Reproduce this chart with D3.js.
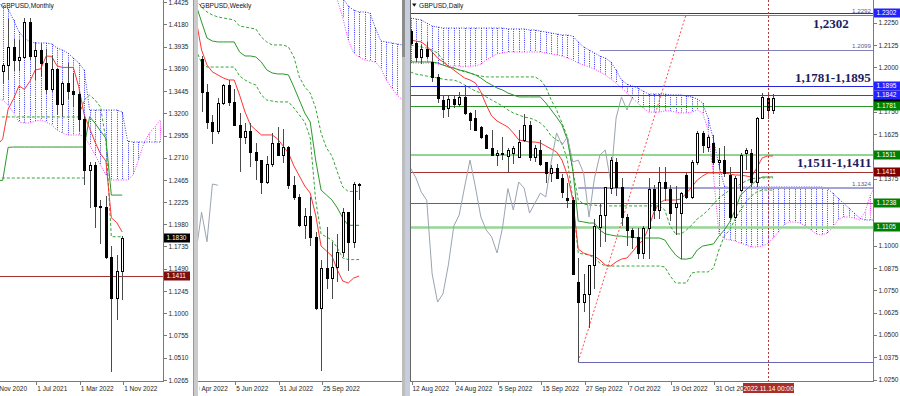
<!DOCTYPE html>
<html>
<head>
<meta charset="utf-8">
<script src="https://cdn.jsdelivr.net/npm/d3@7"></script>
<style>
  html, body { margin: 0; padding: 0; background: #fff; }
  svg { display: block; font-family: "Liberation Sans", Arial, sans-serif; }
  .axis text { font-size: 6.5px; fill: #1e1e1e; }
  .axis line, .axis path { stroke: #7a7a7a; shape-rendering: crispEdges; }
</style>
</head>
<body>
<svg id="chart" width="900" height="396"></svg>
<script>

// ---------- monthly (index 0 = Nov 2020) ----------
const monthlyDates = ['2020-11','2020-12','2021-01','2021-02','2021-03','2021-04','2021-05','2021-06','2021-07','2021-08','2021-09','2021-10','2021-11','2021-12','2022-01','2022-02','2022-03','2022-04','2022-05','2022-06','2022-07','2022-08','2022-09','2022-10','2022-11'];
const monthlyOpen  = [1.2960,1.3375,1.3670,1.3732,1.3930,1.3783,1.3825,1.4210,1.3829,1.3901,1.3757,1.3473,1.3683,1.3302,1.3532,1.3447,1.3413,1.3138,1.2573,1.2626,1.2177,1.2166,1.1621,1.1170,1.1470];
const monthlyHigh  = [1.3398,1.3704,1.3759,1.4241,1.4017,1.4009,1.4250,1.4249,1.3984,1.3958,1.3913,1.3834,1.3698,1.3548,1.3749,1.3644,1.3437,1.3168,1.2667,1.2666,1.2246,1.2293,1.1738,1.1645,1.1855];
const monthlyLow   = [1.2854,1.3135,1.3520,1.3566,1.3670,1.3669,1.3800,1.3787,1.3572,1.3602,1.3412,1.3433,1.3194,1.3161,1.3358,1.3273,1.3000,1.2411,1.2155,1.1934,1.1760,1.1600,1.0350,1.0924,1.1142];
const monthlyClose = [1.3375,1.3670,1.3732,1.3930,1.3783,1.3825,1.4210,1.3829,1.3901,1.3757,1.3473,1.3683,1.3302,1.3532,1.3447,1.3413,1.3138,1.2573,1.2626,1.2177,1.2166,1.1621,1.1170,1.1470,1.1830];
const monthlyTenkan = [1.2446,1.2850,1.2918,1.3247,1.3360,1.3502,1.3463,1.3552,1.3677,1.3690,1.3830,1.3827,1.3722,1.3705,1.3705,1.3705,1.3492,1.3185,1.3034,1.2884,1.2755,1.2675,1.2050,1.1997,1.1894];
const monthlyKijun  = [1.2462,1.2462,1.2462,1.2825,1.2829,1.2829,1.2829,1.2829,1.2829,1.2829,1.2829,1.2829,1.2829,1.2829,1.2829,1.2829,1.2829,1.2829,1.3163,1.3092,1.3005,1.2925,1.2300,1.2300,1.2300];
const monthlyDash1  = [1.3160,1.3160,1.3160,1.3160,1.3160,1.3160,1.3160,1.3160,1.3160,1.3160,1.3160,1.3160,1.3160,1.3160,1.3160,1.3160,1.3160,1.3347,1.3402,1.3347,1.3270,1.2906,1.1842,1.1842,1.1842];
const monthlyDash2  = [1.2488,1.2488,1.2488,1.2488,1.2488,1.2488,1.2488,1.2488,1.2488,1.2488,1.2488,1.2488,1.2488,1.2488,1.2488,1.2488,1.2488,1.2488,null,null,null,null,null,null,null];
const monthlySpanA  = [1.4447,1.4420,1.4381,1.4348,1.4227,1.4095,1.4029,1.3985,1.3974,1.3974,1.3974,1.3963,1.3919,1.3897,1.3864,1.3809,1.3754,1.3677,1.3236,1.3236,1.3236,1.3236,1.3236,1.3236,1.3214,1.2895,1.2884,1.2884,1.2884,1.2884,1.2884,1.2884];
const monthlySpanB  = [1.3360,1.3350,1.3347,1.3291,1.3203,1.3104,1.3093,1.3093,1.3115,1.3126,1.3104,1.3071,1.3016,1.2983,1.2961,1.2961,1.2961,1.2950,1.2851,1.2741,1.2631,1.2521,1.2466,1.2466,1.2466,1.2466,1.2521,1.2686,1.2873,1.2983,1.3049,1.3126];
const monthlyTicks = [1.4425,1.4180,1.3935,1.3690,1.3445,1.3200,1.2955,1.2710,1.2465,1.2225,1.1980,1.1735,1.1490,1.1245,1.1000,1.0755,1.0510,1.0265];
const monthlyTickDates  = ['2020-11','2021-07','2022-03','2022-11'];
const monthlyTickLabels = ['1 Nov 2020','1 Jul 2021','1 Mar 2022','1 Nov 2022'];
const monthlyLevel = 1.1411;

// ---------- weekly (index 0 = week of 10 Apr 2022) ----------
const weeklyDates = '04-10 04-17 04-24 05-01 05-08 05-15 05-22 05-29 06-05 06-12 06-19 06-26 07-03 07-10 07-17 07-24 07-31 08-07 08-14 08-21 08-28 09-04 09-11 09-18 09-25 10-02 10-09 10-16 10-23 10-30 11-06 11-13'.split(' ');
const weeklyOpen  = [1.3035,1.3065,1.2840,1.2575,1.2335,1.2265,1.2485,1.2625,1.2490,1.2310,1.2215,1.2265,1.2095,1.2030,1.1860,1.2000,1.2165,1.2075,1.2135,1.1830,1.1735,1.1510,1.1588,1.1418,1.0855,1.1170,1.1090,1.1175,1.1300,1.1615,1.1380,1.1840];
const weeklyHigh  = [1.3150,1.3090,1.2860,1.2640,1.2390,1.2525,1.2640,1.2665,1.2600,1.2405,1.2325,1.2330,1.2165,1.2030,1.2065,1.2245,1.2295,1.2275,1.2140,1.1900,1.1760,1.1650,1.1740,1.1460,1.1235,1.1495,1.1380,1.1440,1.1645,1.1620,1.1855,1.1850];
const weeklyLow   = [1.2975,1.2830,1.2410,1.2275,1.2155,1.2240,1.2470,1.2460,1.2310,1.1935,1.2160,1.1975,1.1875,1.1760,1.1840,1.1975,1.2065,1.2005,1.1800,1.1715,1.1500,1.1405,1.1350,1.0840,1.0350,1.1000,1.0925,1.1060,1.1260,1.1145,1.1333,1.1710];
const weeklyClose = [1.3065,1.2840,1.2575,1.2335,1.2265,1.2485,1.2625,1.2490,1.2310,1.2215,1.2265,1.2095,1.2030,1.1860,1.2000,1.2165,1.2075,1.2135,1.1830,1.1735,1.1510,1.1588,1.1418,1.0855,1.1170,1.1090,1.1175,1.1300,1.1615,1.1380,1.1840,1.1830];
const weeklyTenkan = [1.3306,1.3147,1.2908,1.2788,1.2733,1.2709,1.2685,1.2669,1.2669,1.2549,1.2414,1.2310,1.2270,1.2231,1.2231,1.2231,1.2199,1.2143,1.2087,1.1984,1.1904,1.1824,1.1768,1.1593,1.1346,1.1306,1.1266,1.1155,1.1067,1.1051,1.1091,1.1107];
const weeklyKijun  = [1.3306,1.3266,1.3131,1.3003,1.2979,1.2972,1.2972,1.2972,1.2972,1.2892,1.2860,1.2860,1.2852,1.2812,1.2749,1.2725,1.2717,1.2717,1.2709,1.2613,1.2509,1.2406,1.2334,1.2031,1.1792,1.1752,1.1713,1.1649,1.1569,1.1511,1.1511,1.1511];
const weeklyDash1  = [1.3306,1.3306,1.3250,1.3211,1.3187,1.3171,1.3163,1.3155,1.3147,1.3099,1.3091,1.3083,1.3075,1.3011,1.2972,1.2948,1.2948,1.2948,1.2932,1.2852,1.2693,1.2613,1.2565,1.2446,1.2247,1.2127,1.2063,1.1936,1.1816,1.1781,1.1781,1.1781];
const weeklyDash2  = [1.2979,1.2908,1.2804,1.2772,1.2772,1.2772,1.2772,1.2772,1.2772,1.2701,1.2669,1.2645,1.2629,1.2549,1.2509,1.2501,1.2494,1.2494,1.2494,1.2446,1.2390,1.2334,1.2207,1.1713,1.1442,1.1418,1.1394,1.1330,1.1250,1.1238,1.1238,1.1238];
const weeklySpanA = [null,null,null,null,null,null,null,null,null,null,null,null,null,null,null,null,null,null,null,null,null,
  1.3625,1.3585,1.3545,1.3505,1.3450,1.3386,1.3346,1.3322,1.3258,1.3226,1.3211,1.3211,1.3203,1.3083,1.2980,1.2972,1.2964,1.2956,1.2948];
const weeklySpanB = [null,null,null,null,null,null,null,null,null,null,null,null,null,null,null,null,null,null,null,null,null,
  1.3545,1.3505,1.3466,1.3426,1.3386,1.3346,1.3306,1.3163,1.2987,1.2884,1.2852,1.2828,1.2820,1.2812,1.2764,1.2669,1.2605,1.2549,1.2509];
const weeklyTickDates  = ['04-10','06-05','07-31','09-25'];
const weeklyTickLabels = ['10 Apr 2022','5 Jun 2022','31 Jul 2022','25 Sep 2022'];

// ---------- daily (index 0 = 12 Aug 2022) ----------
const dailyDates = ('08-12 08-15 08-16 08-17 08-18 08-19 08-22 08-23 08-24 08-25 08-26 08-29 08-30 08-31 ' +
  '09-01 09-02 09-05 09-06 09-07 09-08 09-09 09-12 09-13 09-14 09-15 09-16 09-19 09-20 09-21 09-22 09-23 09-26 09-27 09-28 09-29 09-30 ' +
  '10-03 10-04 10-05 10-06 10-07 10-10 10-11 10-12 10-13 10-14 10-17 10-18 10-19 10-20 10-21 10-24 10-25 10-26 10-27 10-28 10-31 ' +
  '11-01 11-02 11-03 11-04 11-07 11-08 11-09 11-10 11-11 11-14 11-15').split(' ');
const dailyOpen = [1.2203,1.2135,1.2057,1.2100,1.2030,1.1947,1.1817,1.1772,1.1823,1.1797,
  1.1832,1.1744,1.1716,1.1665,1.1620,1.1547,1.1508,1.1520,1.1505,1.1520,
  1.1497,1.1590,1.1676,1.1497,1.1536,1.1469,1.1410,1.1435,1.1380,1.1265,
  1.1255,1.0797,1.0684,1.0730,1.0892,1.1104,1.1172,1.1323,1.1469,1.1329,
  1.1161,1.1088,1.1049,1.0959,1.1099,1.1320,1.1200,1.1357,1.1318,1.1217,
  1.1183,1.1396,1.1273,1.1469,1.1632,1.1553,1.1576,1.1469,1.1480,1.1396,
  1.1161,1.1312,1.1520,1.1520,1.1357,1.1716,1.1828,1.1761];
const dailyHigh = [1.2212,1.2140,1.2123,1.2143,1.2087,1.1960,1.1840,1.1837,1.1840,1.1860,
  1.1900,1.1750,1.1761,1.1670,1.1626,1.1648,1.1539,1.1610,1.1545,1.1560,
  1.1648,1.1738,1.1700,1.1566,1.1590,1.1470,1.1450,1.1460,1.1400,1.1350,
  1.1275,1.0930,1.0840,1.0890,1.1150,1.1235,1.1330,1.1495,1.1493,1.1380,
  1.1180,1.1100,1.1100,1.1110,1.1380,1.1340,1.1440,1.1440,1.1340,1.1335,
  1.1300,1.1410,1.1480,1.1645,1.1645,1.1620,1.1620,1.1550,1.1560,1.1440,
  1.1390,1.1520,1.1550,1.1540,1.1720,1.1855,1.1850,1.1850];
const dailyLow = [1.2123,1.2030,1.2019,1.2044,1.1917,1.1800,1.1717,1.1719,1.1770,1.1780,
  1.1735,1.1648,1.1644,1.1599,1.1540,1.1501,1.1444,1.1480,1.1405,1.1460,
  1.1490,1.1580,1.1472,1.1470,1.1448,1.1350,1.1355,1.1380,1.1270,1.1210,
  1.0840,1.0350,1.0630,1.0540,1.0760,1.0990,1.1020,1.1290,1.1280,1.1110,
  1.1000,1.0980,1.0925,1.0925,1.0925,1.1150,1.1150,1.1250,1.1140,1.1060,
  1.0925,1.1260,1.1260,1.1455,1.1520,1.1525,1.1450,1.1430,1.1385,1.1145,
  1.1150,1.1300,1.1425,1.1330,1.1330,1.1710,1.1710,1.1740];
const dailyClose = [1.2135,1.2057,1.2100,1.2063,1.1947,1.1830,1.1764,1.1823,1.1797,1.1832,
  1.1744,1.1705,1.1648,1.1610,1.1547,1.1508,1.1520,1.1515,1.1535,1.1545,
  1.1580,1.1676,1.1497,1.1545,1.1460,1.1410,1.1435,1.1380,1.1300,1.1255,
  1.0841,1.0684,1.0730,1.0892,1.1110,1.1172,1.1329,1.1480,1.1329,1.1161,
  1.1088,1.1049,1.0959,1.1099,1.1320,1.1200,1.1357,1.1323,1.1183,1.1239,
  1.1295,1.1273,1.1469,1.1632,1.1565,1.1609,1.1469,1.1480,1.1408,1.1161,
  1.1379,1.1508,1.1536,1.1357,1.1716,1.1834,1.1761,1.1828];
const dailyTenkan = [1.2153,1.2147,1.2142,1.2119,1.2086,1.2052,1.2030,1.2007,1.1985,1.1962,
  1.1940,1.1929,1.1912,1.1862,1.1789,1.1727,1.1699,1.1682,1.1665,1.1632,
  1.1593,1.1587,1.1581,1.1581,1.1576,1.1559,1.1542,1.1525,1.1480,1.1396,
  1.1256,1.0981,1.0959,1.0948,1.0942,1.0920,1.0892,1.0886,1.0909,1.0925,
  1.0931,1.0965,1.1004,1.1032,1.1099,1.1189,1.1239,1.1256,1.1256,1.1256,
  1.1262,1.1295,1.1329,1.1368,1.1391,1.1408,1.1408,1.1408,1.1408,1.1402,
  1.1396,1.1396,1.1391,1.1385,1.1436,1.1492,1.1503,1.1503];
const dailyKijun = [1.2030,1.2030,1.2030,1.2030,1.2030,1.2024,1.2013,1.2002,1.1996,1.1985,
  1.1979,1.1968,1.1957,1.1940,1.1918,1.1901,1.1884,1.1873,1.1856,1.1845,
  1.1834,1.1834,1.1834,1.1834,1.1834,1.1800,1.1761,1.1721,1.1677,1.1593,
  1.1424,1.1138,1.1133,1.1127,1.1127,1.1088,1.1066,1.1060,1.1054,1.1054,
  1.1049,1.1049,1.1043,1.1043,1.1043,1.1043,1.1043,1.1032,1.0987,1.0948,
  1.0925,1.0925,1.0931,1.0976,1.0998,1.1004,1.1010,1.1054,1.1088,1.1133,
  1.1200,1.1284,1.1312,1.1340,1.1368,1.1385,1.1385,1.1385];
const dailyDash1 = [1.2125,1.2119,1.2114,1.2108,1.2097,1.2080,1.2041,1.2002,1.1996,1.1985,
  1.1974,1.1968,1.1957,1.1951,1.1946,1.1946,1.1946,1.1946,1.1946,1.1946,
  1.1946,1.1946,1.1946,1.1946,1.1929,1.1890,1.1817,1.1761,1.1688,1.1609,
  1.1424,1.1256,1.1234,1.1228,1.1228,1.1223,1.1223,1.1223,1.1223,1.1223,
  1.1223,1.1223,1.1223,1.1223,1.1223,1.1223,1.1223,1.1200,1.1110,1.1066,
  1.1066,1.1088,1.1116,1.1150,1.1172,1.1200,1.1234,1.1267,1.1290,1.1312,
  1.1329,1.1346,1.1363,1.1374,1.1380,1.1380,1.1380,1.1380];
const dailyDash2 = [1.1974,1.1962,1.1957,1.1951,1.1946,1.1940,1.1934,1.1929,1.1929,1.1918,
  1.1901,1.1884,1.1867,1.1856,1.1834,1.1817,1.1800,1.1783,1.1761,1.1744,
  1.1733,1.1721,1.1716,1.1705,1.1688,1.1660,1.1615,1.1593,1.1576,1.1480,
  1.1256,1.0959,1.0953,1.0948,1.0931,1.0903,1.0886,1.0886,1.0886,1.0886,
  1.0886,1.0886,1.0886,1.0886,1.0886,1.0886,1.0886,1.0881,1.0830,1.0791,
  1.0791,1.0791,1.0847,1.0853,1.0853,1.0853,1.0875,1.0976,1.1054,1.1088,
  1.1150,1.1200,1.1245,1.1279,1.1301,1.1312,1.1312,1.1312];
const dailySpanA = [1.2276,1.2271,1.2265,1.2248,1.2231,1.2226,1.2220,1.2220,1.2220,1.2220,
  1.2220,1.2220,1.2220,1.2220,1.2220,1.2220,1.2220,1.2220,1.2215,1.2215,
  1.2215,1.2215,1.2209,1.2209,1.2203,1.2198,1.2192,1.2187,1.2181,1.2181,
  1.2175,1.2142,1.2114,1.2097,1.2080,1.2063,1.2052,1.2030,1.1985,1.1929,
  1.1906,1.1895,1.1884,1.1867,1.1850,1.1850,1.1850,1.1850,1.1845,1.1845,
  1.1845,1.1839,1.1834,1.1822,1.1800,1.1716,1.1593,1.1452,1.1335,1.1323,
  1.1329,1.1329,1.1329,1.1329,1.1329,1.1329,1.1329,1.1329,1.1329,1.1329,
  1.1329,1.1329,1.1329,1.1329,1.1329,1.1329,1.1329,1.1323,1.1295,1.1267,
  1.1239,1.1211,1.1183,1.1155,1.1144,1.1144,1.1144];
const dailySpanB = [1.2024,1.2024,1.2024,1.2024,1.2024,1.2018,1.2013,1.2007,1.2007,1.2007,
  1.2002,1.2007,1.2007,1.2018,1.2041,1.2058,1.2075,1.2080,1.2086,1.2086,
  1.2086,1.2086,1.2086,1.2086,1.2086,1.2080,1.2075,1.2069,1.2063,1.2052,
  1.2041,1.2024,1.2013,1.2002,1.1990,1.1974,1.1957,1.1934,1.1912,1.1884,
  1.1856,1.1828,1.1800,1.1772,1.1749,1.1749,1.1749,1.1755,1.1755,1.1749,
  1.1744,1.1744,1.1749,1.1761,1.1744,1.1649,1.1396,1.1066,1.1038,1.1032,
  1.1026,1.1015,1.1004,1.0993,1.0993,1.0998,1.1010,1.1043,1.1077,1.1116,
  1.1133,1.1133,1.1127,1.1110,1.1088,1.1066,1.1060,1.1071,1.1099,1.1144,
  1.1161,1.1161,1.1155,1.1144,1.1189,1.1284,1.1340];
const dailyTicks = [1.2250,1.2125,1.2000,1.1875,1.1750,1.1625,1.1500,1.1375,1.1250,1.1125,1.1000,1.0875,1.0750,1.0625,1.0500,1.0375,1.0250];
const dailyTickDates  = ['08-12','08-24','09-05','09-15','09-27','10-07','10-19','10-31'];
const dailyTickLabels = ['12 Aug 2022','24 Aug 2022','5 Sep 2022','15 Sep 2022','27 Sep 2022','7 Oct 2022','19 Oct 2022','31 Oct 2022'];

// horizontal levels on the daily chart (null start = whole width)
const levelValues = [1.2302, 1.2292, 1.2099, 1.1895, 1.1842, 1.1781, 1.1511, 1.1411, 1.1324, 1.1238, 1.1105, 1.0350];
const levelStarts = [null, '09-26', '09-30', null, null, null, null, null, '09-26', null, null, '09-26'];
const trendDates  = ['09-26', '10-24'];
const trendValues = [1.0350, 1.2302];
const cursorDate  = '11-14';
const cursorLabel = '2022.11.14 00:00';
const zoneTexts   = ['1,2302', '1,1781-1,1895', '1,1511-1,1411'];

// ================= drawing =================

const PLOT_BOTTOM = 381;
const COLORS = {
  kumoUp: '#3535ff', kumoDown: '#ff35ff', tenkan: '#ff3434', kijun: '#2a982a',
  dash: '#35a535', chikou: '#9aa4b0', wick: '#4a4a4a'
};

const svg = d3.select('#chart');
const defs = svg.append('defs');

function clipTo(id, x0, x1) {
  defs.append('clipPath').attr('id', id).append('rect')
    .attr('x', x0).attr('y', 0).attr('width', x1 - x0).attr('height', PLOT_BOTTOM);
  return `url(#${id})`;
}

function series(g, x, y, values, opts) {
  const offset = opts.offset || 0;
  const line = d3.line()
    .defined((d) => d.v != null)
    .x((d) => x(d.i))
    .y((d) => y(d.v));
  g.append('path')
    .datum(values.map((v, i) => ({ i: i + offset, v })))
    .attr('d', line)
    .attr('fill', 'none')
    .attr('stroke', opts.color)
    .attr('stroke-width', opts.width || 1)
    .attr('stroke-dasharray', opts.dash || null);
}

function kumo(g, x, y, spanA, spanB) {
  const idx = d3.range(spanA.length).filter((i) => spanA[i] != null && spanB[i] != null);
  g.append('g').selectAll('line').data(idx).join('line')
    .attr('x1', (i) => Math.round(x(i)) + 0.5)
    .attr('x2', (i) => Math.round(x(i)) + 0.5)
    .attr('y1', (i) => y(spanA[i]))
    .attr('y2', (i) => y(spanB[i]))
    .attr('stroke', (i) => spanA[i] >= spanB[i] ? COLORS.kumoUp : COLORS.kumoDown)
    .attr('stroke-dasharray', '1,1.2');
  series(g, x, y, spanA, { color: COLORS.kumoUp, dash: '1,1.5' });
  series(g, x, y, spanB, { color: COLORS.kumoDown, dash: '1,1.5' });
}

function candles(g, x, y, o, h, l, c) {
  const idx = d3.range(o.length);
  const cg = g.append('g').attr('shape-rendering', 'crispEdges');
  cg.selectAll('line').data(idx).join('line')
    .attr('x1', (i) => Math.round(x(i)) + 0.5)
    .attr('x2', (i) => Math.round(x(i)) + 0.5)
    .attr('y1', (i) => y(h[i]))
    .attr('y2', (i) => y(l[i]))
    .attr('stroke', COLORS.wick);
  cg.selectAll('rect').data(idx).join('rect')
    .attr('x', (i) => Math.round(x(i)) - 0.5)
    .attr('y', (i) => Math.round(y(Math.max(o[i], c[i]))) + 0.5)
    .attr('width', 2)
    .attr('height', (i) => Math.max(0, Math.round(y(Math.min(o[i], c[i]))) - Math.round(y(Math.max(o[i], c[i])))))
    .attr('fill', (i) => c[i] >= o[i] ? '#fff' : '#000')
    .attr('stroke', '#000');
}

// ticks hidden behind a price box are left out
function priceAxis(x0, y, ticks, boxed) {
  const shown = ticks.filter((t) => !boxed.some((b) => Math.abs(y(t) - y(b)) < 5));
  const g = svg.append('g').attr('class', 'axis')
    .attr('transform', `translate(${x0 + 0.5},0)`)
    .call(d3.axisRight(y).tickValues(shown).tickFormat(d3.format('.4f')).tickSize(3).tickSizeOuter(0).tickPadding(2));
  g.select('.domain').attr('d', `M0,0V${PLOT_BOTTOM}`);
  return g;
}

// labels are clipped to [textFrom, textTo]; the base line is drawn on its own
function timeAxis(x, dates, tickDates, tickLabels, x0, x1, clipId, textFrom, textTo) {
  const ticks = tickDates.map((d) => dates.indexOf(d));
  svg.append('line').attr('x1', x0).attr('x2', x1)
    .attr('y1', PLOT_BOTTOM + 0.5).attr('y2', PLOT_BOTTOM + 0.5).attr('stroke', '#7a7a7a');
  const g = svg.append('g').attr('class', 'axis')
    .attr('transform', `translate(0,${PLOT_BOTTOM + 0.5})`);
  defs.append('clipPath').attr('id', clipId).append('rect')
    .attr('x', textFrom).attr('y', -2).attr('width', textTo - textFrom).attr('height', 20);
  g.attr('clip-path', `url(#${clipId})`)
    .call(d3.axisBottom(x).tickValues(ticks).tickFormat((d, k) => tickLabels[k]).tickSize(3).tickSizeOuter(0).tickPadding(2));
  g.select('.domain').remove();
  g.selectAll('.tick line').attr('transform', (d) => `translate(${Math.round(x(d)) + 0.5 - x(d)},0)`);
  g.selectAll('.tick text').attr('text-anchor', 'start').attr('x', 1.5);
}

function priceBox(x0, y, value, fill, withText = true) {
  const yy = Math.round(y(value));
  svg.append('rect').attr('x', x0).attr('y', yy - 4.5).attr('width', 26).attr('height', 9).attr('fill', fill);
  if (!withText) return;
  svg.append('text').attr('x', x0 + 2.5).attr('y', yy + 2.3)
    .attr('font-size', 6.5).attr('fill', '#fff').text(d3.format('.4f')(value));
}

function title(x0, text) {
  svg.append('text').attr('x', x0).attr('y', 7.5).attr('font-size', 6.6).attr('fill', '#111').text(text);
}

// ---------- monthly panel ----------
{
  const x = d3.scaleLinear().domain([2, 24]).range([2.7, 122.2]);
  const y = d3.scaleLinear().domain([1.4447, 1.02541]).range([0, PLOT_BOTTOM]);
  const plot = svg.append('g').attr('clip-path', clipTo('clipM', 0, 163));
  kumo(plot, x, y, monthlySpanA, monthlySpanB);
  plot.append('line').attr('x1', 0).attr('x2', 163)
    .attr('y1', Math.round(y(monthlyLevel)) + 0.5).attr('y2', Math.round(y(monthlyLevel)) + 0.5)
    .attr('stroke', '#a83232');
  series(plot, x, y, monthlyDash1, { color: COLORS.dash, dash: '3,2' });
  series(plot, x, y, monthlyDash2, { color: COLORS.dash, dash: '3,2' });
  series(plot, x, y, monthlyKijun, { color: COLORS.kijun });
  series(plot, x, y, monthlyTenkan, { color: COLORS.tenkan });
  candles(plot, x, y, monthlyOpen, monthlyHigh, monthlyLow, monthlyClose);
  const last = monthlyClose[monthlyClose.length - 1];
  priceAxis(163, y, monthlyTicks, [last, monthlyLevel]);
  priceBox(164, y, last, '#000');
  priceBox(164, y, monthlyLevel, '#7d0d0d');
  timeAxis(x, monthlyDates, monthlyTickDates, monthlyTickLabels, 0, 164, 'clipMT', 0, 164);
  title(1, 'GBPUSD,Monthly');
}

// ---------- weekly panel ----------
{
  const x = d3.scaleLinear().domain([0, 31]).range([190.7, 359.1]);
  const y = d3.scaleLinear().domain([1.33062, 1.02704]).range([0, PLOT_BOTTOM]);
  const plot = svg.append('g').attr('clip-path', clipTo('clipW', 198, 402));
  kumo(plot, x, y, weeklySpanA, weeklySpanB);
  series(plot, x, y, weeklyDash1, { color: COLORS.dash, dash: '3,2' });
  series(plot, x, y, weeklyDash2, { color: COLORS.dash, dash: '3,2' });
  series(plot, x, y, weeklyKijun, { color: COLORS.kijun });
  series(plot, x, y, weeklyTenkan, { color: COLORS.tenkan });
  series(plot, x, y, weeklyClose, { color: COLORS.chikou, offset: -26 });
  candles(plot, x, y, weeklyOpen, weeklyHigh, weeklyLow, weeklyClose);
  timeAxis(x, weeklyDates, weeklyTickDates, weeklyTickLabels, 198, 402, 'clipWT', 199.6, 402);
  title(200, 'GBPUSD,Weekly');
}

// ---------- daily panel ----------
{
  const x = d3.scaleLinear().domain([0, 67]).range([410.5, 773]);
  const y = d3.scaleLinear().domain([1.23772, 1.02416]).range([0, PLOT_BOTTOM]);
  const plot = svg.append('g').attr('clip-path', clipTo('clipD', 410, 873));

  kumo(plot, x, y, dailySpanA, dailySpanB);

  const levelStyle = {
    '1.2302': { c: '#3030c4', w: 1 }, '1.2292': { c: '#7a7ab4', w: 1 }, '1.2099': { c: '#8484bc', w: 1 },
    '1.1895': { c: '#2626e0', w: 1 }, '1.1842': { c: '#3a3aec', w: 1 }, '1.1781': { c: '#2a9a2a', w: 1 },
    '1.1511': { c: '#93d493', w: 2 }, '1.1411': { c: '#a53030', w: 1 }, '1.1324': { c: '#a4a4d2', w: 2 },
    '1.1238': { c: '#2a8c2a', w: 1 }, '1.1105': { c: '#96d696', w: 2.5 }, '1.0350': { c: '#6868b4', w: 1 }
  };
  levelValues.forEach((v, k) => {
    const st = levelStyle[v.toFixed(4)];
    const x0 = levelStarts[k] ? x(dailyDates.indexOf(levelStarts[k])) : 410;
    const yy = Math.round(y(v)) + (st.w % 2 ? 0.5 : 0);
    plot.append('line').attr('x1', x0).attr('x2', 873).attr('y1', yy).attr('y2', yy)
      .attr('stroke', st.c).attr('stroke-width', st.w);
  });

  series(plot, x, y, dailyDash1, { color: COLORS.dash, dash: '3,2' });
  series(plot, x, y, dailyDash2, { color: COLORS.dash, dash: '3,2' });
  series(plot, x, y, dailyKijun, { color: COLORS.kijun });
  series(plot, x, y, dailyTenkan, { color: COLORS.tenkan });
  series(plot, x, y, dailyClose, { color: COLORS.chikou, offset: -26 });

  plot.append('line')
    .attr('x1', x(dailyDates.indexOf(trendDates[0]))).attr('y1', y(trendValues[0]))
    .attr('x2', x(dailyDates.indexOf(trendDates[1]))).attr('y2', y(trendValues[1]))
    .attr('stroke', '#ff4a4a').attr('stroke-dasharray', '2,2');

  candles(plot, x, y, dailyOpen, dailyHigh, dailyLow, dailyClose);

  const cx = Math.round(x(dailyDates.indexOf(cursorDate))) + 0.5;
  plot.append('line').attr('x1', cx).attr('x2', cx).attr('y1', 0).attr('y2', PLOT_BOTTOM)
    .attr('stroke', '#b83a3a').attr('stroke-dasharray', '2,2');

  // small level captions
  [1, 2, 8].forEach((k) => {
    svg.append('text').attr('x', 871).attr('y', Math.round(y(levelValues[k])) - 2)
      .attr('text-anchor', 'end').attr('font-size', 6.2).attr('fill', '#5a5a96')
      .text(d3.format('.4f')(levelValues[k]));
  });

  // zone captions
  const zoneAt = [[813, 28], [795, 82], [797, 167]];
  zoneTexts.forEach((t, k) => {
    svg.append('text').attr('x', zoneAt[k][0]).attr('y', zoneAt[k][1])
      .attr('font-family', '"Liberation Serif", "Times New Roman", serif')
      .attr('font-weight', 'bold').attr('font-size', 13).attr('fill', '#1c1c5c').text(t);
  });

  svg.append('line').attr('x1', 410.5).attr('x2', 410.5).attr('y1', 0).attr('y2', PLOT_BOTTOM).attr('stroke', '#666');

  const boxFill = {
    '1.2302': '#2222ff', '1.1895': '#2222ff', '1.1842': '#2222ff', '1.1781': '#008000',
    '1.1511': '#008000', '1.1411': '#800000', '1.1238': '#008000', '1.1105': '#008000'
  };
  const boxed = levelValues.filter((v) => boxFill[v.toFixed(4)]);
  const last = dailyClose[dailyClose.length - 1];
  priceAxis(873, y, dailyTicks, boxed.concat([last]));

  // current-price box, mostly covered by the 1.1842 box
  priceBox(874, y, last, '#000', false);
  boxed.forEach((v) => priceBox(874, y, v, boxFill[v.toFixed(4)]));

  const labelW = 51;
  timeAxis(x, dailyDates, dailyTickDates, dailyTickLabels, 410, 874, 'clipDT', 410, cx - labelW / 2);

  // cursor time label
  svg.append('rect').attr('x', cx - labelW / 2).attr('y', 383).attr('width', labelW).attr('height', 10).attr('fill', '#ac2e2a');
  svg.append('text').attr('x', cx).attr('y', 390.6).attr('text-anchor', 'middle')
    .attr('font-size', 6.5).attr('fill', '#fff').text(cursorLabel);

  svg.append('path').attr('d', 'M412,3.5h4.5l-2.25,3.2z').attr('fill', '#111');
  title(419, 'GBPUSD,Daily');
}

// window frames between panels
svg.append('rect').attr('x', 193).attr('y', 0).attr('width', 5).attr('height', 396).attr('fill', '#cbcbcb');
svg.append('line').attr('x1', 193.5).attr('x2', 193.5).attr('y1', 0).attr('y2', 396).attr('stroke', '#9a9a9a');
svg.append('rect').attr('x', 402).attr('y', 0).attr('width', 3).attr('height', 396).attr('fill', '#bdbdbd');
svg.append('rect').attr('x', 402).attr('y', 0).attr('width', 3).attr('height', 57).attr('fill', '#8c8c8c');
svg.append('rect').attr('x', 405).attr('y', 0).attr('width', 5).attr('height', 396).attr('fill', '#c6cedb');

</script>
</body>
</html>
